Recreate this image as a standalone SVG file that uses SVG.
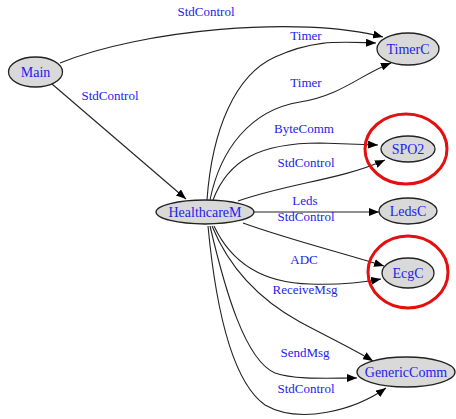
<svg xmlns="http://www.w3.org/2000/svg" width="456" height="419" viewBox="0 0 456 419">
<defs>
<marker id="arr" markerWidth="11" markerHeight="8" refX="10" refY="4" orient="auto" markerUnits="userSpaceOnUse">
<path d="M0,0 L10,4 L0,8 Z" fill="#000"/>
</marker>
<style>
.e{fill:none;stroke:#222;stroke-width:1.1;marker-end:url(#arr)}
.n{fill:#d9d9d9;stroke:#222;stroke-width:1.3}
.t{font-family:"Liberation Serif","Times New Roman",serif;fill:#2222ee;text-anchor:middle}
.nt{font-size:14px}
.lt{font-size:13px}
.hl{fill:none;stroke:#e41010;stroke-width:3}
</style>
</defs>
<rect width="456" height="419" fill="#fff"/>
<g id="connectors">
<path class="e" d="M60,63 C140,30 300,15 383,37"/>
<path class="e" d="M52,84 L186,199"/>
<path class="e" d="M207,200 C212,130 235,75 275,57 S340,42 376,43"/>
<path class="e" d="M210,200 C220,150 250,110 300,102 C340,96 360,75 391,63"/>
<path class="e" d="M213,200 C228,160 260,143 320,143 L378,145"/>
<path class="e" d="M238,201 C290,183 340,180 385,160"/>
<path class="e" d="M254,212 L379,212"/>
<path class="e" d="M243,223 C290,240 340,252 384,266"/>
<path class="e" d="M214,226 C230,260 260,283 310,284 C340,285 360,283 381,279"/>
<path class="e" d="M212,226 C230,270 260,300 300,322 C330,338 355,350 373,361"/>
<path class="e" d="M210,226 C225,290 245,360 275,373 C295,380 330,378 357,378"/>
<path class="e" d="M208,226 C215,300 230,380 265,405 C300,425 355,410 386,388"/>
<text class="t lt" x="206" y="16">StdControl</text>
<text class="t lt" x="110" y="100">StdControl</text>
<text class="t lt" x="306" y="40">Timer</text>
<text class="t lt" x="306" y="87">Timer</text>
<text class="t lt" x="304" y="133">ByteComm</text>
<text class="t lt" x="306" y="167">StdControl</text>
<text class="t lt" x="305" y="205">Leds</text>
<text class="t lt" x="306" y="221">StdControl</text>
<text class="t lt" x="304" y="264">ADC</text>
<text class="t lt" x="305" y="294">ReceiveMsg</text>
<text class="t lt" x="305" y="357">SendMsg</text>
<text class="t lt" x="306" y="393">StdControl</text>
</g>
<g id="Main"><ellipse class="n" cx="35.5" cy="72" rx="27" ry="15"/><text class="t nt" x="35.5" y="77">Main</text></g>
<g id="HealthcareM"><ellipse class="n" cx="205" cy="212" rx="49" ry="12"/><text class="t nt" x="205" y="217">HealthcareM</text></g>
<g id="TimerC"><ellipse class="n" cx="408" cy="49" rx="31" ry="16"/><text class="t nt" x="408" y="54">TimerC</text></g>
<g id="SPO2"><ellipse class="n" cx="408" cy="149" rx="27" ry="13"/><text class="t nt" x="408" y="154">SPO2</text><ellipse class="hl" cx="406" cy="149" rx="41" ry="35"/></g>
<g id="LedsC"><ellipse class="n" cx="408" cy="211" rx="29" ry="13"/><text class="t nt" x="408" y="216">LedsC</text></g>
<g id="EcgC"><ellipse class="n" cx="408" cy="273" rx="26" ry="15"/><text class="t nt" x="408" y="278">EcgC</text><ellipse class="hl" cx="408" cy="272" rx="40" ry="36"/></g>
<g id="GenericComm"><ellipse class="n" cx="406" cy="372" rx="49" ry="15"/><text class="t nt" x="406" y="377">GenericComm</text></g>
</svg>
